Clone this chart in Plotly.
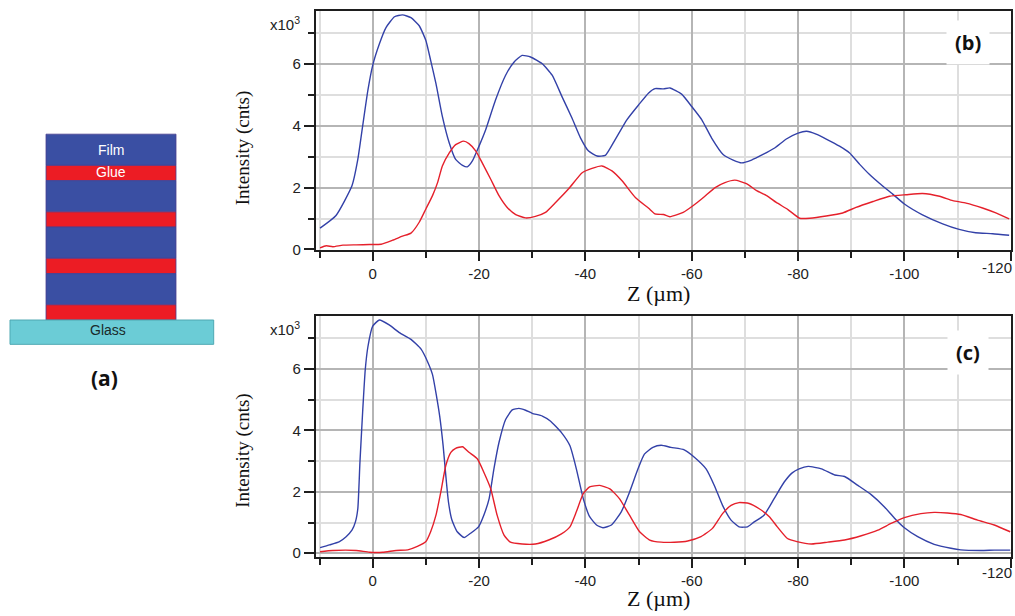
import plotly.graph_objects as go

# ---------------- data ----------------
z_b_blue = [9.9, 6.9, 3.9, 2.8, 1.9, 0.9, 0, -1.25, -2.5, -4.1, -5.6, -7.2, -8.75, -10, -10.9, -11.9, -13.1,
            -14.4, -15.6, -16.9, -17.8, -18.75, -20, -21.25, -23.1, -25, -26.6, -28.1, -29.7, -31.9, -33.75,
            -35.6, -37.5, -39.1, -40.6, -42.2, -43.75, -45.6, -47.8, -50, -51.9, -53.1, -54.7, -55.9, -58.1,
            -60, -61.9, -63.75, -65.9, -67.8, -69.4, -71.25, -73.4, -75.6, -77.8, -80, -81.6, -83.4, -85.3,
            -87.8, -89.7, -91.6, -93.4, -95.3, -97.8, -100, -103.4, -107.2, -110.3, -113.4, -116.6, -119.7]
i_b_blue = [0.69, 1.10, 2.06, 2.91, 3.98, 5.15, 5.95, 6.64, 7.17, 7.52, 7.58, 7.49, 7.23, 6.75, 6.11, 5.36, 4.30,
            3.44, 2.91, 2.72, 2.67, 2.86, 3.34, 3.87, 4.83, 5.63, 6.06, 6.27, 6.22, 6.00, 5.63,
            4.94, 4.24, 3.60, 3.18, 3.02, 3.04, 3.55, 4.19, 4.67, 5.06, 5.20, 5.19, 5.22, 5.02,
            4.62, 4.19, 3.60, 3.07, 2.89, 2.80, 2.89, 3.07, 3.28, 3.57, 3.76, 3.82, 3.73, 3.57,
            3.34, 3.12, 2.75, 2.43, 2.14, 1.79, 1.47, 1.12, 0.83, 0.65, 0.54, 0.51, 0.46]

z_b_red = [9.9, 8.75, 7.5, 5.6, 3.1, 0.6, -1.6, -3.75, -5.6, -7.2, -8.75, -10, -11.25, -12.2, -13.1, -14.4,
           -15.6, -17.1, -18.1, -19.4, -20.6, -22.2, -23.75, -25.3, -26.9, -28.75, -30.6, -32.5, -34.4, -36.9,
           -39.4, -41.25, -43.1, -45, -46.9, -49.4, -51.9, -53.1, -54.7, -55.9, -58.4, -60.3, -62.2, -64.4,
           -66.25, -68.1, -70.3, -72.2, -74.1, -75.9, -78.1, -80.3, -82.2, -85.3, -88.4, -90.9, -94.1, -97.2,
           -100.3, -103.4, -106.6, -109.1, -111.6, -114.7, -117.2, -119.7]
i_b_red = [0.05, 0.12, 0.09, 0.14, 0.15, 0.16, 0.17, 0.30, 0.43, 0.53, 0.88, 1.31, 1.74, 2.16, 2.70, 3.12,
           3.39, 3.50, 3.42, 3.18, 2.80, 2.27, 1.74, 1.36, 1.13, 1.02, 1.07, 1.20, 1.52, 1.97,
           2.48, 2.62, 2.70, 2.54, 2.22, 1.68, 1.33, 1.15, 1.13, 1.06, 1.20, 1.42, 1.68, 2.00,
           2.16, 2.24, 2.13, 1.90, 1.74, 1.52, 1.29, 1.01, 1.01, 1.08, 1.18, 1.36, 1.55, 1.72,
           1.77, 1.81, 1.72, 1.58, 1.50, 1.34, 1.18, 0.99]

z_c_blue = [9.9, 8.1, 6.25, 5, 3.9, 3.25, 2.8, 2.4, 1.9, 1.4, 0.9, 0, -1.25, -3.1, -5, -7.2, -9.1, -10.3,
            -11.25, -12, -12.6, -13.25, -13.75, -14.25, -14.9, -15.9, -17.2, -18.4, -19.9, -20.9, -21.9,
            -22.8, -23.75, -25, -26.25, -27.5, -28.75, -30, -31.9, -33.4, -35.5, -37.1, -38.3, -39.6,
            -40.8, -42.1, -43.3, -44.9, -46.75, -48.3, -49.9, -51.1, -52.7, -54.25, -56.1, -58.6, -60.5,
            -62.7, -64.25, -65.8, -67.4, -68.9, -70.5, -71.75, -73.6, -75.5, -77.4, -78.9, -80.2, -81.9,
            -84.4, -86.9, -88.75, -91.25, -93.75, -96.25, -98.1, -100, -102.5, -105.6, -108.75, -110.6,
            -114.4, -116.9, -119.9]
i_c_blue = [0.18, 0.27, 0.38, 0.54, 0.75, 1.02, 1.45, 2.96, 4.58, 5.98, 6.73, 7.40, 7.60, 7.44, 7.19, 6.97,
            6.65, 6.25, 5.82, 5.12, 4.47, 3.50, 2.53, 1.67, 1.08, 0.70, 0.51, 0.65, 0.86, 1.24, 1.78,
            2.75, 3.61, 4.36, 4.67, 4.72, 4.66, 4.56, 4.47, 4.31, 3.93, 3.50, 2.75, 1.78,
            1.19, 0.92, 0.83, 0.92, 1.35, 1.99, 2.75, 3.23, 3.45, 3.52, 3.45, 3.37, 3.13,
            2.75, 2.21, 1.56, 1.08, 0.86, 0.86, 1.02, 1.24, 1.78, 2.32, 2.62, 2.75, 2.83,
            2.75, 2.55, 2.50, 2.21, 1.91, 1.51, 1.15, 0.83, 0.54, 0.29, 0.16, 0.11,
            0.09, 0.10, 0.10]

z_c_red = [9.9, 7.5, 3.1, 0.6, -1.9, -4.4, -6.6, -8.4, -10, -10.9, -11.9, -12.8, -13.75, -14.7, -15.6,
           -16.9, -18.1, -19.7, -20.9, -22.2, -23.4, -24.7, -25.9, -28.1, -30.6, -33.1, -35.5, -37.1,
           -38.3, -39.6, -40.8, -42.7, -44.6, -46.4, -48.3, -50.2, -52.1, -54.25, -56.75, -59.25, -61.75,
           -63.9, -65.8, -67.4, -68.9, -70.8, -72.7, -74.6, -76.1, -78, -79.8, -82.5, -85.6, -88.75,
           -91.9, -95, -97.5, -100, -103.1, -105.6, -108.1, -110.6, -113.75, -116.9, -119.9]
i_c_red = [0.05, 0.09, 0.09, 0.03, 0.03, 0.09, 0.11, 0.22, 0.38, 0.70, 1.24, 1.99, 2.86, 3.29, 3.42,
           3.47, 3.29, 3.07, 2.64, 2.10, 1.24, 0.59, 0.36, 0.30, 0.30, 0.43, 0.63, 0.86,
           1.35, 1.94, 2.16, 2.21, 2.10, 1.78, 1.24, 0.70, 0.43, 0.36, 0.36, 0.40, 0.54,
           0.81, 1.29, 1.56, 1.65, 1.62, 1.45, 1.19, 0.86, 0.48, 0.38, 0.30, 0.36, 0.43,
           0.57, 0.75, 0.97, 1.16, 1.29, 1.33, 1.31, 1.26, 1.08, 0.92, 0.70]

x_tickvals = [0, -20, -40, -60, -80, -100, -120]
x_ticktext = ["0", "-20", "-40", "-60", "-80", "-100", "-120"]
x_minor = [10, -10, -30, -50, -70, -90, -110]
y_tickvals = [0, 2, 4, 6]
y_ticktext = ["0", "2", "4", "6"]
y_minor = [1, 3, 5, 7]

layers = ["Film", "Glue", "Film", "Glue", "Film", "Glue", "Film", "Glue"]  # top to bottom

# ---------------- styling ----------------
W, H = 1015, 616
BLUE = "#3341A8"
RED = "#E5202B"
GRID = "#B5B5B5"
MINOR_GRID = "#DEDEDE"
AX = "#1E1E1E"
SANS = "Liberation Sans, Arial, sans-serif"
SERIF = "Liberation Serif, Times New Roman, serif"
TICKFONT = dict(family=SANS, size=15, color="#222")


def px(x):
    return x / W


def py(y):
    return 1 - y / H


fig = go.Figure()
for xs, ys, col, ax in [(z_b_blue, i_b_blue, BLUE, "1"), (z_b_red, i_b_red, RED, "1"),
                        (z_c_blue, i_c_blue, BLUE, "2"), (z_c_red, i_c_red, RED, "2")]:
    fig.add_trace(go.Scatter(x=xs, y=ys, mode="lines", line=dict(color=col, width=1.4, shape="spline", smoothing=0.5),
                             xaxis="x" if ax == "1" else "x2", yaxis="y" if ax == "1" else "y2",
                             showlegend=False, hoverinfo="skip"))


def xaxis(anchor):
    return dict(domain=[px(315.7), px(1011)], anchor=anchor, range=[10.72, -120.05],
                showline=True, linecolor=AX, linewidth=1.5, mirror=True,
                ticks="outside", ticklen=9, tickwidth=1.5, tickcolor=AX,
                tickmode="array", tickvals=x_tickvals, ticktext=x_ticktext,
                tickfont=TICKFONT,
                showgrid=True, gridcolor=GRID, gridwidth=1.5, zeroline=False,
                minor=dict(tickmode="array", tickvals=x_minor, ticks="outside", ticklen=6,
                           tickwidth=1.5, tickcolor=AX, showgrid=True, gridcolor=MINOR_GRID, gridwidth=1.5))


def yaxis(anchor, dom, rng):
    return dict(domain=dom, anchor=anchor, range=rng,
                showline=True, linecolor=AX, linewidth=1.5, mirror=True,
                ticks="outside", ticklen=10, tickwidth=1.5, tickcolor=AX,
                tickmode="array", tickvals=y_tickvals, ticktext=y_ticktext,
                tickfont=TICKFONT,
                showgrid=True, gridcolor=GRID, gridwidth=1.5, zeroline=False,
                minor=dict(tickmode="array", tickvals=y_minor, ticks="outside", ticklen=6,
                           tickwidth=1.5, tickcolor=AX, showgrid=True, gridcolor=MINOR_GRID, gridwidth=1.5))


shapes = []
annotations = []


def note(text, x, y, font, **kw):
    d = dict(text=text, x=px(x), y=py(y), xref="paper", yref="paper", showarrow=False,
             xanchor="center", yanchor="middle", font=font)
    d.update(kw)
    return d


# stack diagram (a)
top = 135.7
film_h, glue_h = 31.6, 15.4
y0 = top
for name in layers:
    h = film_h if name == "Film" else glue_h
    shapes.append(dict(type="rect", xref="paper", yref="paper", x0=px(46), x1=px(176),
                       y0=py(y0 + h), y1=py(y0),
                       fillcolor="#3A4FA3" if name == "Film" else "#EC1C24",
                       line=dict(color="#4A3F8F", width=0.8), layer="above"))
    y0 += h
shapes.append(dict(type="rect", xref="paper", yref="paper", x0=px(10), x1=px(213.7),
                   y0=py(348.3), y1=py(y0), fillcolor="#6BCCD6",
                   line=dict(color="#4FA9B3", width=1), layer="above"))
annotations += [
    note("Film", 111, 152, dict(family=SANS, size=14, color="white")),
    note("Glue", 111, 173.5, dict(family=SANS, size=14, color="white")),
    note("Glass", 108, 334, dict(family=SANS, size=14, color="#1a2a2a")),
    note("<b>(a)</b>", 104, 382, dict(family="Open Sans, " + SANS, size=21, color="#111")),
]

# axis titles and labels for (b) and (c)
for (ycenter_lab, yx10, yz, ylbl, lbl, xaxname) in [(150, 24, 297, 43, "(b)", "x"),
                                                     (456, 332, 605, 357, "(c)", "x2")]:
    annotations += [
        note("Intensity (cnts)", 243, ycenter_lab, dict(family=SERIF, size=19, color="#111"), textangle=-90),
        note("x10<sup>3</sup>", 285, yx10, dict(family=SANS, size=15, color="#222")),
        note("Z (µm)", 658, yz, dict(family=SERIF, size=22, color="#111")),
        note("<b>" + lbl + "</b>", 968, ylbl, dict(family="Open Sans, " + SANS, size=20, color="#111"),
             bgcolor="white", borderpad=8),
        # last tick label sits at the page edge: drawn right-aligned so it stays inside
        dict(text=x_ticktext[-1], x=x_tickvals[-1], xref=xaxname, y=py(yz - 26), yref="paper",
             xanchor="right", xshift=3, yanchor="middle", showarrow=False, font=TICKFONT),
    ]

fig.update_layout(
    width=W, height=H, margin=dict(l=0, r=0, t=0, b=0),
    paper_bgcolor="white", plot_bgcolor="white",
    xaxis=xaxis("y"),
    yaxis=yaxis("x", [py(253.3), py(11)], [-0.03, 7.71]),
    xaxis2=xaxis("y2"),
    yaxis2=yaxis("x2", [py(563.3), py(319.7)], [-0.12, 7.73]),
    shapes=shapes, annotations=annotations, showlegend=False,
)

fig.write_html(
    "out.html", config={"displayModeBar": False},
    post_script="document.body.style.margin='0';document.body.style.overflow='hidden';",
)
